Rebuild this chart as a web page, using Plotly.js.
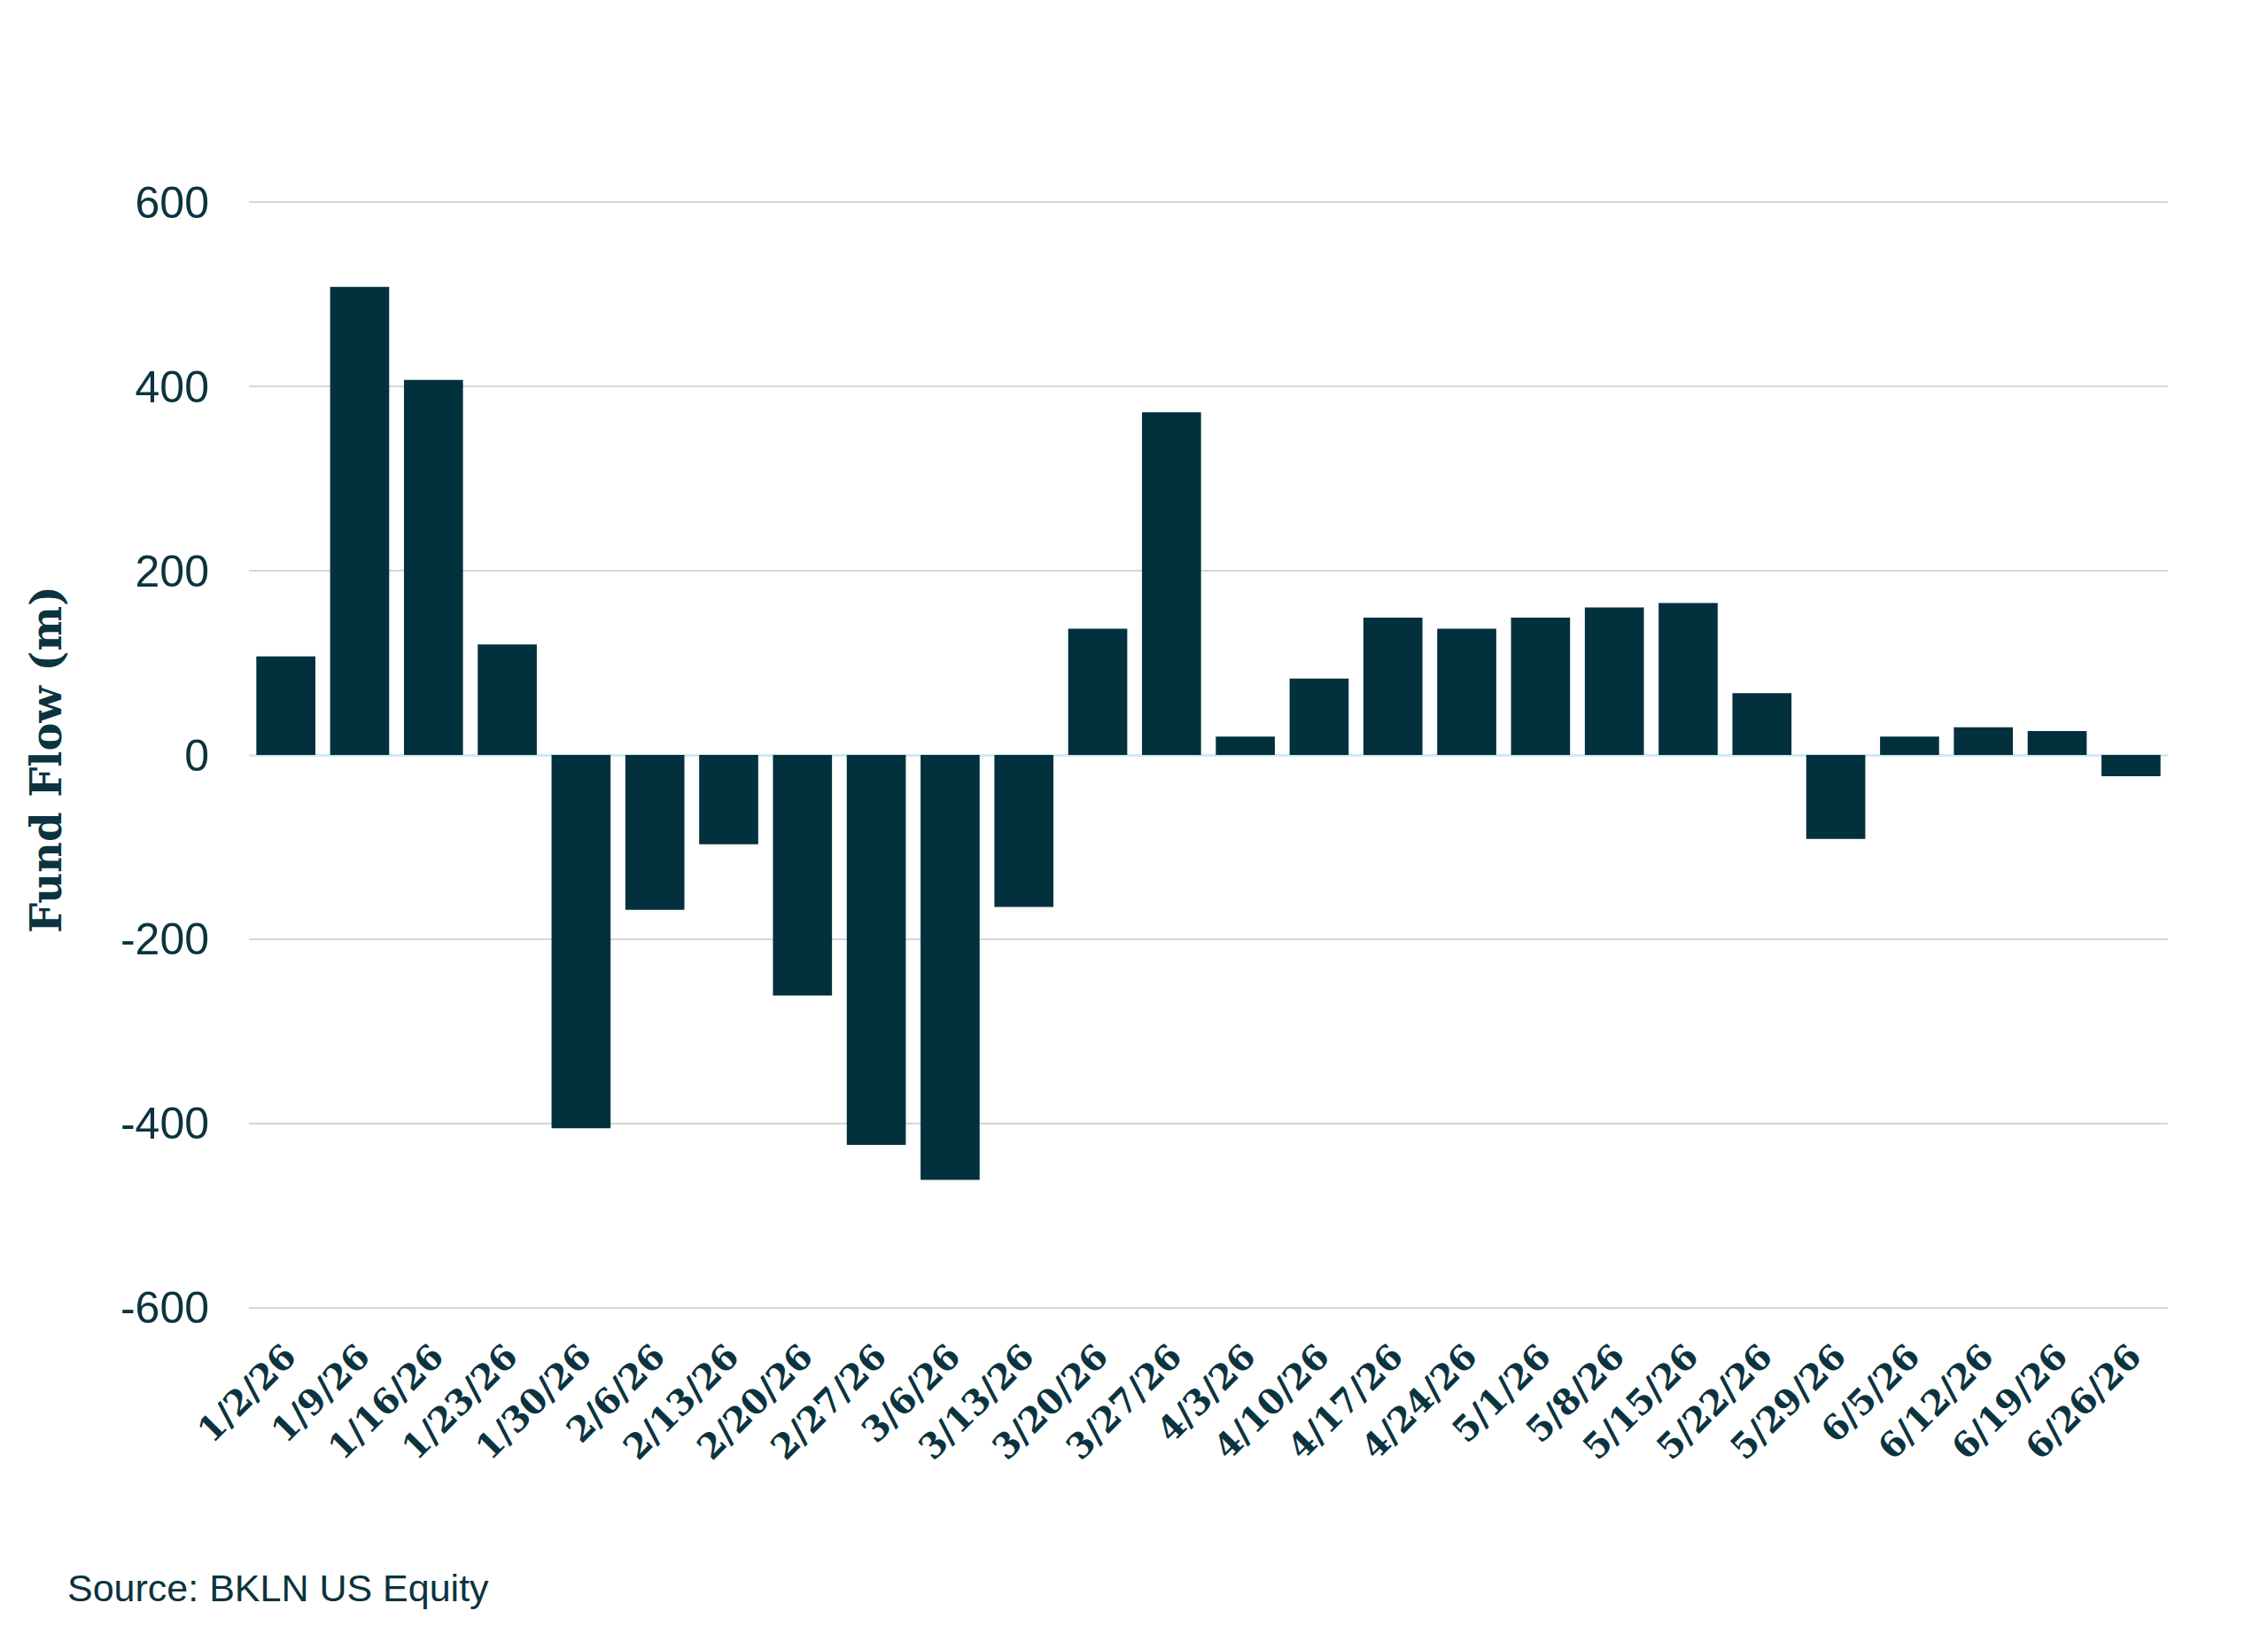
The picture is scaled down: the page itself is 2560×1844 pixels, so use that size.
<!DOCTYPE html>
<html>
<head>
<meta charset="utf-8">
<script src="https://cdn.plot.ly/plotly-3.0.1.min.js"></script>
<style>
  html, body { margin: 0; padding: 0; background: #ffffff; }
  #chart { width: 2560px; height: 1844px; }
</style>
</head>
<body>
<div id="chart"></div>
<script>
const weeks = ["1/2/26","1/9/26","1/16/26","1/23/26","1/30/26","2/6/26","2/13/26","2/20/26","2/27/26","3/6/26","3/13/26","3/20/26","3/27/26","4/3/26","4/10/26","4/17/26","4/24/26","5/1/26","5/8/26","5/15/26","5/22/26","5/29/26","6/5/26","6/12/26","6/19/26","6/26/26"];
const fundFlow = [107, 508, 407, 120, -405, -168, -97, -261, -423, -461, -165, 137, 372, 20, 83, 149, 137, 149, 160, 165, 67, -91, 20, 30, 26, -23];
const yTickVals = [-600, -400, -200, 0, 200, 400, 600];
const yTickText = ["-600", "-400", "-200", "0", "200", "400", "600"];
const yTitle = "Fund Flow (m)";
const sourceText = "Source: BKLN US Equity";

const ink = "#0b3340";
const barColor = "#02313d";

const trace = {
  type: "bar",
  x: weeks,
  y: fundFlow,
  marker: { color: barColor, line: { width: 0 } },
  hoverinfo: "x+y"
};

const layout = {
  width: 2560,
  height: 1844,
  paper_bgcolor: "#ffffff",
  plot_bgcolor: "#ffffff",
  margin: { l: 281, r: 113, t: 227, b: 367, autoexpand: false },
  bargap: 0.2,
  showlegend: false,
  xaxis: {
    type: "category",
    range: [-0.5, weeks.length - 0.5],
    tickangle: -45,
    tickfont: { family: "DejaVu Serif", size: 39, color: ink, weight: "bold" },
    showgrid: false,
    showline: false,
    ticks: "",
    ticklabelstandoff: 22,
    automargin: false,
    fixedrange: true
  },
  yaxis: {
    range: [-601, 601],
    tickmode: "array",
    tickvals: yTickVals,
    ticktext: yTickText,
    tickfont: { family: "Liberation Sans, Arial, sans-serif", size: 50, color: ink },
    showgrid: true,
    gridcolor: "#d3d6d9",
    gridwidth: 2,
    zeroline: true,
    zerolinecolor: "#cdebf3",
    zerolinewidth: 3,
    showline: false,
    ticks: "",
    ticklabelstandoff: 44,
    automargin: false,
    fixedrange: true
  },
  annotations: [
    {
      text: yTitle,
      xref: "paper", yref: "paper",
      x: -0.1057, y: 0.496,
      xanchor: "center", yanchor: "middle",
      textangle: -90,
      showarrow: false,
      font: { family: "DejaVu Serif", size: 48, color: ink, weight: "bold" }
    },
    {
      text: sourceText,
      xref: "paper", yref: "paper",
      x: -0.0956, y: -0.2516,
      xanchor: "left", yanchor: "middle",
      showarrow: false,
      font: { family: "Liberation Sans, Arial, sans-serif", size: 43, color: ink }
    }
  ]
};

Plotly.newPlot("chart", [trace], layout, { displayModeBar: false, staticPlot: true });
</script>
</body>
</html>
